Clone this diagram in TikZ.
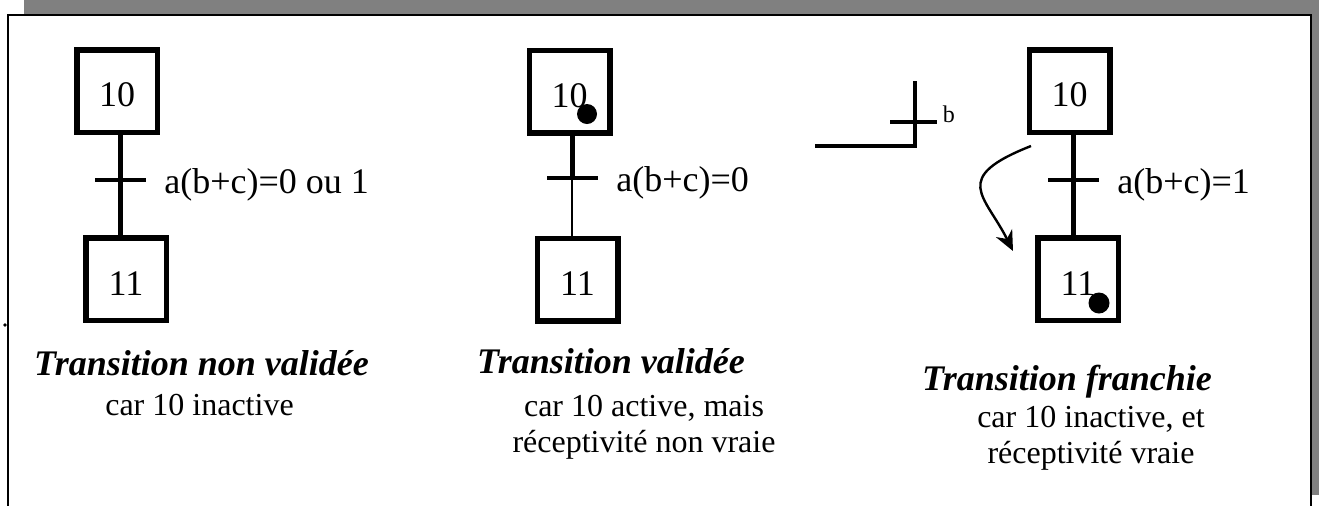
\documentclass[tikz,border=0pt]{standalone}
\usepackage{fontspec}
\setmainfont{Liberation Serif}
\usetikzlibrary{arrows.meta, positioning, calc}

\begin{document}
\begin{tikzpicture}[x=0.5pt, y=-0.5pt,
    etape/.style={rectangle, draw, line width=2.75pt, minimum width=40.25pt, minimum height=41.25pt, inner sep=0pt, text height=16pt, font=\fontsize{18}{21}\selectfont},
    barre/.style={rectangle, fill, minimum width=25.5pt, minimum height=2.4pt, inner sep=0pt},
    lien/.style={line width=2.5pt},
    recep/.style={inner sep=0pt, text height=13pt, text depth=0pt, font=\fontsize{18}{21}\selectfont},
    titre/.style={inner sep=0pt, anchor=base, font=\fontsize{18}{21}\selectfont\bfseries\itshape},
    soustitre/.style={inner sep=0pt, anchor=base, align=center, font=\fontsize{16}{18}\selectfont}]
      \path[use as bounding box, clip] (0,0) rectangle (1319,505);
      \fill[gray] (24,0) rectangle (1330,495);
      \filldraw[fill=white, line width=1pt] (8,15) rectangle (1311,520);
      \fill (5,325) circle (0.9pt);

      \node[etape] (s10a) at (117,91) {10};
      \node[etape] (s11a) at (126,279) {11};
      \node[barre] (tr1) at (120,180) {};
      \draw[lien] (s10a.south -| tr1) -- (tr1 |- s11a.north);
      \node[recep, right=9pt of tr1] (r1) {a(b+c)=0 ou 1};

      \node[etape] (s10b) at (569.5,91.5) {10};
      \node[etape] (s11b) at (577.5,279.5) {11};
      \node[barre] (tr2) at (572,178) {};
      \draw[lien] (s10b.south -| tr2) -- (tr2.center);
      \draw[line width=1.3pt] (tr2.center) -- (tr2 |- s11b.north);
      \node[recep, right=9pt of tr2] (r2) {a(b+c)=0};
      \fill ($(s10b)+(17.5,22.5)$) circle (5pt);

      \coordinate (bg) at (815,146);
      \coordinate (bc) at (915,146);
      \coordinate (bh) at (915,81);
      \draw[line width=2pt] (bg) -- (bc) -- (bh);
      \node[barre, minimum width=23.5pt, minimum height=2pt] (trb) at (913.5,122) {};
      \node[inner sep=0pt, anchor=base west, font=\fontsize{12}{14}\selectfont] (rb) at ([xshift=2.5pt]trb.east) {b};

      \node[etape] (s10c) at (1069.5,91) {10};
      \node[etape] (s11c) at (1078,279) {11};
      \node[barre] (tr3) at (1073,180) {};
      \draw[lien] (s10c.south -| tr3) -- (tr3 |- s11c.north);
      \node[recep, right=9pt of tr3] (r3) {a(b+c)=1};
      \fill ($(s11c)+(21,24)$) circle (5.25pt);
      \coordinate (fa) at (1031,146);
      \coordinate (fb) at (1013,251);
      \draw[line width=1.2pt, -{Stealth[length=10pt, width=9pt]}] (fa) .. controls (950,178) and (985,195) .. (fb);

      \node[titre] (ti1) at (201.5,375) {Transition non validée};
      \node[soustitre] (st1) at (199.5,415) {car 10 inactive};
      \node[titre] (ti2) at (611,373) {Transition validée};
      \node[soustitre] (st2) at (644,452) {car 10 active, mais\\réceptivité non vraie};
      \node[titre] (ti3) at (1067,390) {Transition franchie};
      \node[soustitre] (st3) at (1091,463) {car 10 inactive, et\\réceptivité vraie};
    \end{tikzpicture}
\end{document}
